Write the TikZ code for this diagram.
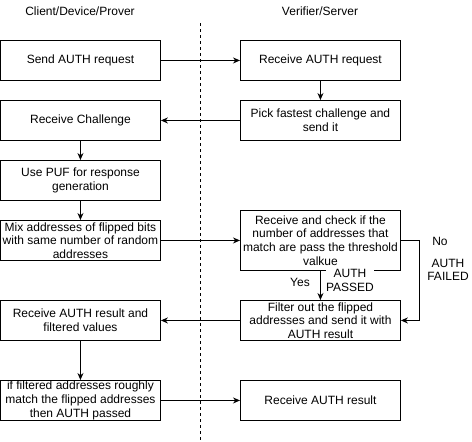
\documentclass[tikz,border=0pt]{standalone}
\usepackage{fontspec}
\setmainfont{Liberation Sans}
\usetikzlibrary{arrows.meta}
\begin{document}
\begin{tikzpicture}[x=1pt,y=-1pt,
  every node/.style={font=\fontsize{12}{13.6}\selectfont},
  box/.style={draw,line width=0.9pt,minimum width=160pt,minimum height=40pt,align=center,inner sep=0pt,anchor=north west},
  lbl/.style={align=center,inner sep=0pt},
  arr/.style={line width=0.9pt,-{Stealth[length=7pt,width=6pt]}}]
\useasboundingbox (0,0) rectangle (472,442);
\node[lbl] (hl) at (80,11) {Client/Device/Prover};
\node[lbl] (hr) at (320,11) {Verifier/Server};
\coordinate (dt) at (200,23);
\coordinate (db) at (200,442);
\draw[dashed,line width=0.6pt] (dt) -- (db);
% left column
\node[box] (a1) at (0,40) {Send AUTH request};
\node[box] (a2) at (0,100) {Receive Challenge};
\node[box] (a3) at (0,160) {Use PUF for response\\generation};
\node[box] (a4) at (0,220) {Mix addresses of flipped bits\\with same number of random\\addresses};
\node[box] (a5) at (0,300) {Receive AUTH result and\\filtered values};
\node[box] (a6) at (0,380) {if filtered addresses roughly\\match the flipped addresses\\then AUTH passed};
% right column
\node[box] (b1) at (240,40) {Receive AUTH request};
\node[box] (b2) at (240,100) {Pick fastest challenge and\\send it};
\node[box,minimum height=60pt] (b3) at (240,210) {Receive and check if the\\number of addresses that\\match are pass the threshold\\valkue};
\node[box] (b4) at (240,300) {Filter out the flipped\\addresses and send it with\\AUTH result};
\node[box] (b5) at (240,380) {Receive AUTH result};
% arrows
\draw[arr] (a1.east) -- (b1.west);
\draw[arr] (b1.south) -- (b2.north);
\draw[arr] (b2.west) -- (a2.east);
\draw[arr] (a2.south) -- (a3.north);
\draw[arr] (a3.south) -- (a4.north);
\draw[arr] (a4.east) -- (b3.west |- a4.east);
\draw[arr] (b3.south) -- (b4.north);
\coordinate (c1) at (419,240);
\draw[arr] (b3.east |- c1) -- (c1) |- (b4.east);
\draw[arr] (b4.west) -- (a5.east);
\draw[arr] (a5.south) -- (a6.north);
\draw[arr] (a6.east) -- (b5.west);
% labels
\node[lbl] (yes) at (300,282) {Yes};
\node[lbl,fill=white,inner sep=0.5pt] (ap) at (350,280.5) {AUTH\\PASSED};
\node[lbl] (no) at (440,241) {No};
\node[lbl] (af) at (448,270) {AUTH\\FAILED};
\end{tikzpicture}
\end{document}
